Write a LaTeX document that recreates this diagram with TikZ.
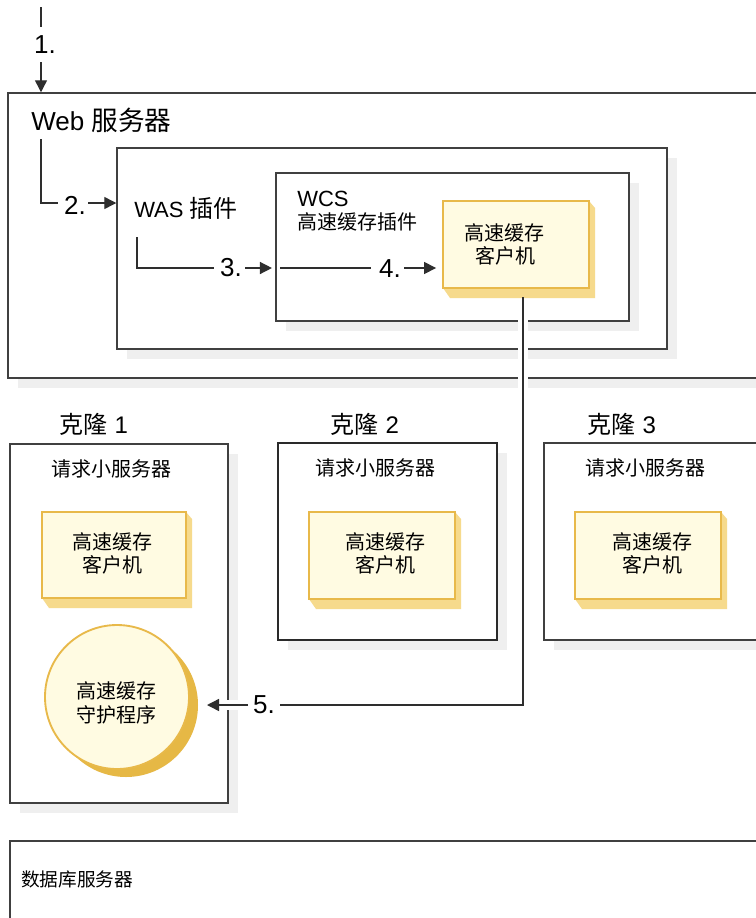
\documentclass[tikz,border=0pt]{standalone}
\usepackage{fontspec}
\setmainfont{Liberation Sans}
\newfontfamily\cjk{Noto Sans CJK SC}
\usetikzlibrary{arrows.meta,fit}
\definecolor{framec}{HTML}{404040}
\definecolor{framedark}{HTML}{2A2A2A}
\definecolor{shadowc}{HTML}{EFEFEF}
\definecolor{creamc}{HTML}{FFFBE2}
\definecolor{goldc}{HTML}{E8B94A}
\definecolor{depthc}{HTML}{F6DA8C}
\definecolor{circshd}{HTML}{E6B845}
\definecolor{linec}{HTML}{2E2E2E}
\newcommand\shbox[6]{%
  \fill[shd] (#2+10,#3+10) rectangle (#4+10,#5+10);
  \node[#6, fit={(#2,#3)(#4,#5)}] (#1) {};
}
\newcommand\client[5]{%
  \fill[dep] (#4,#3) -- (#4+6,#3+7) -- (#4+6,#5+10) -- (#2+7,#5+10) -- (#2,#5) -- cycle;
  \node[cli, fit={(#2,#3)(#4,#5)}] (#1) {};
}
\begin{document}
\begin{tikzpicture}[x=0.75pt,y=-0.75pt,
  shd/.style={fill=shadowc},
  frm/.style={draw=framec, line width=1.1pt, fill=white, inner sep=0pt},
  frmthick/.style={draw=framedark, line width=2pt, fill=white, inner sep=0pt},
  cli/.style={draw=goldc, line width=1.4pt, fill=creamc, inner sep=0pt},
  dep/.style={fill=depthc},
  conn/.style={draw=linec, line width=1.05pt},
  tip/.style={-{Triangle[length=9pt,width=9pt]}},
  halo/.style={draw=white, line width=7pt},
  big/.style={font=\fontsize{19.5}{22}\selectfont, inner sep=0pt},
  mid/.style={font=\fontsize{16.5}{19}\selectfont, inner sep=0pt},
  clonelbl/.style={font=\fontsize{18}{21}\selectfont, inner sep=0pt, anchor=base},
  cj/.style={font=\cjk\fontsize{15}{18}\selectfont, inner sep=0pt, anchor=base},
  cjs/.style={font=\cjk\fontsize{14}{17}\selectfont, inner sep=0pt, anchor=base west},
]
\useasboundingbox (0,0) rectangle (756,918);
\clip (0,0) rectangle (756,918);

% ---------- Web server ----------
\shbox{web}{8}{93}{800}{378}{frm}
\node[big, anchor=base west] (weblbl) at (31,130) {Web {\cjk\fontsize{20}{22}\selectfont 服务器}};

% WAS plugin
\shbox{was}{117}{148}{667}{349}{frm}
\node[mid, anchor=base west] (waslbl) at (134,217) {WAS {\cjk\fontsize{18}{20}\selectfont 插件}};

% WCS plugin
\shbox{wcs}{276}{173}{629}{321}{frm}
\node[mid, anchor=base west] (wcslbl) at (297,206) {WCS};
\node[cjs, font=\cjk\fontsize{15}{18}\selectfont] (wcslbl2) at (297,229.5) {高速缓存插件};

% cache client (top)
\client{c0}{443}{201}{589}{288}
\node[cj] (c0a) at (504,240) {高速缓存};
\node[cj] (c0b) at (505,263) {客户机};

% ---------- clones ----------
\node[clonelbl] (k1) at (94,433) {{\cjk 克隆} 1};
\node[clonelbl] (k2) at (365,433) {{\cjk 克隆} 2};
\node[clonelbl] (k3) at (622,433) {{\cjk 克隆} 3};

\shbox{clone1}{10}{444}{228}{803}{frm}
\shbox{clone2}{278}{443}{497}{640}{frmthick}
\shbox{clone3}{544}{443}{800}{640}{frm}

\node[cj] (r1) at (111,476) {请求小服务器};
\node[cj] (r2) at (375,475) {请求小服务器};
\node[cj] (r3) at (645,475) {请求小服务器};

\client{c1}{42}{512}{186}{598}
\node[cj] (c1a) at (112,549) {高速缓存};
\node[cj] (c1b) at (112,572) {客户机};
\client{c2}{309}{512}{455}{599}
\node[cj] (c2a) at (385,549) {高速缓存};
\node[cj] (c2b) at (385,572) {客户机};
\client{c3}{575}{512}{721}{599}
\node[cj] (c3a) at (652,549) {高速缓存};
\node[cj] (c3b) at (652,572) {客户机};

% cache daemon
\fill[circshd] (126,705) circle (72);
\node[circle, draw=goldc, line width=1.4pt, fill=creamc, minimum size=108pt, inner sep=0pt] (daemon) at (117,697) {};
\node[cj] (d1) at (116,698) {高速缓存};
\node[cj] (d2) at (116,722) {守护程序};

% ---------- database server ----------
\node[frm, fit={(10,841)(800,960)}] (db) {};
\node[cjs, font=\cjk\fontsize{14}{17}\selectfont] (dblbl) at (21,886) {数据库服务器};

% ---------- connectors ----------
% 1.
\coordinate (s1) at (41,7);
\coordinate (e1) at (41,27);
\coordinate (s1b) at (41,62);
\node[big] (n1) at (45,45) {1.};
\draw[conn] (s1) -- (e1);
\draw[conn,tip] (s1b) -- (s1b |- web.north);

% 2.
\coordinate (s2) at (41,139);
\coordinate (e2) at (58,203);
\coordinate (a2) at (88,203);
\node[big] (n2) at (75,205) {2.};
\draw[conn] (s2) |- (e2);
\draw[conn,tip] (a2) -- (a2 -| was.west);

% 3.
\coordinate (s3) at (137,237);
\coordinate (e3) at (214,268);
\coordinate (a3) at (245,268);
\node[big] (n3) at (231,268) {3.};
\draw[conn] (s3) |- (e3);
\draw[conn,tip] (a3) -- ([xshift=-2.5pt]a3 -| wcs.west);

% 4.
\coordinate (s4) at (280,268);
\coordinate (e4) at (371,268);
\coordinate (a4) at (404,268);
\node[big] (n4) at (390,269) {4.};
\draw[conn] (s4) -- (e4);
\draw[conn,tip] (a4) -- ([xshift=-4.5pt]a4 -| c0.west);

% 5.
\coordinate (s5) at (523,297);
\coordinate (b5) at (523,705);
\coordinate (e5) at (280,705);
\coordinate (a5) at (248,705);
\coordinate (t5) at (207,705);
\draw[halo] (523,300) -- (b5) -- (e5);
\draw[halo] (a5) -- (214,705);
\node[big] (n5) at (264,705) {5.};
\draw[conn] (s5) -- (b5) -- (e5);
\draw[conn,tip] (a5) -- (t5);
\end{tikzpicture}
\end{document}
